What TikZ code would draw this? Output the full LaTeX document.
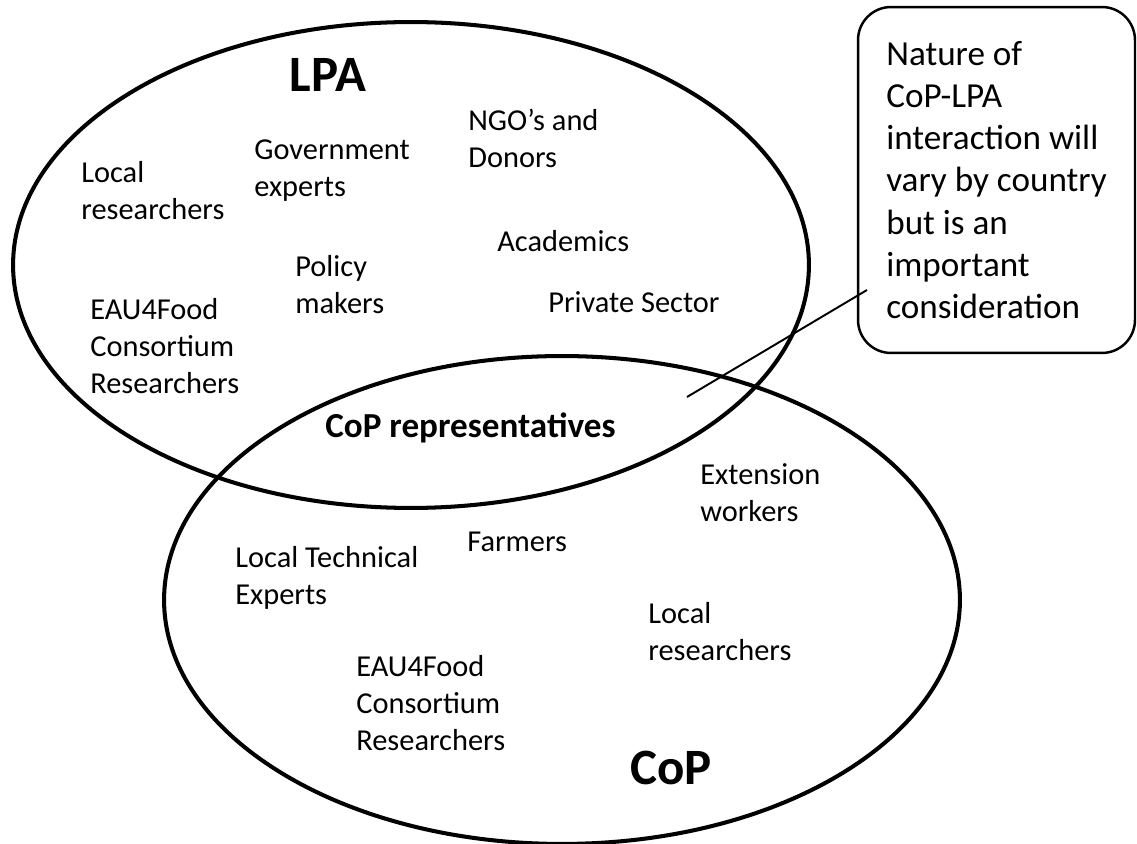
\documentclass[tikz,border=0pt]{standalone}
\usepackage{fontspec}
\setmainfont{Carlito}

\tikzset{
    ring/.style={draw=black, line width=2.3pt},
    member/.style={anchor=west, align=left, inner sep=0pt, font=\fontsize{17.3}{21}\selectfont},
    set title/.style={inner sep=0pt, font=\fontsize{29}{34}\selectfont\bfseries},
    note/.style={draw=black, line width=1.4pt, rounded corners=0.66cm, align=left, inner sep=0pt,
        minimum width=5.54cm, minimum height=6.92cm, font=\fontsize{20}{24}\selectfont},
    pointer/.style={draw=black, line width=1.1pt},
}

\begin{document}
\begin{tikzpicture}[x=0.02cm, y=-0.02cm]
                \useasboundingbox (0,0) rectangle (1137,844);
                \begin{scope}
                    \draw[ring] (411,265) ellipse [x radius=7.96cm, y radius=4.86cm];
                    \node[set title] (lpa) at (328,75) {LPA};
                    \node[member] (lparesearch) at (81,191) {Local\\researchers};
                    \node[member] (gov) at (254,171) {Government\\experts};
                    \node[member] (ngo) at (468,138) {NGO’s and\\Donors};
                    \node[member] (acad) at (497,241) {Academics};
                    \node[member] (policy) at (295,285) {Policy\\makers};
                    \node[member] (private) at (548,302) {Private Sector};
                    \node[member] (lpaeau) at (90,346) {EAU4Food\\Consortium\\Researchers};
                \end{scope}
                \begin{scope}
                    \draw[ring] (562,600) ellipse [x radius=7.96cm, y radius=4.88cm];
                    \node[member, font=\fontsize{20}{24}\selectfont\bfseries] (reps) at (325,428) {CoP representatives};
                    \node[member] (ext) at (700,493) {Extension\\workers};
                    \node[member] (farm) at (467,542) {Farmers};
                    \node[member] (tech) at (235,578) {Local Technical\\Experts};
                    \node[member] (copresearch) at (648,632) {Local\\researchers};
                    \node[member] (copeau) at (356,703) {EAU4Food\\Consortium\\Researchers};
                    \node[set title] (cop) at (671,768) {CoP};
                \end{scope}
                \node[note] (remark) at (996.5,180) {Nature of\\CoP-LPA\\interaction will\\vary by country\\but is an\\important\\consideration};
                \coordinate (tip) at (687,397);
                \coordinate (remarkend) at (867,290);
                \draw[pointer] (tip) -- (remarkend);
\end{tikzpicture}
\end{document}
